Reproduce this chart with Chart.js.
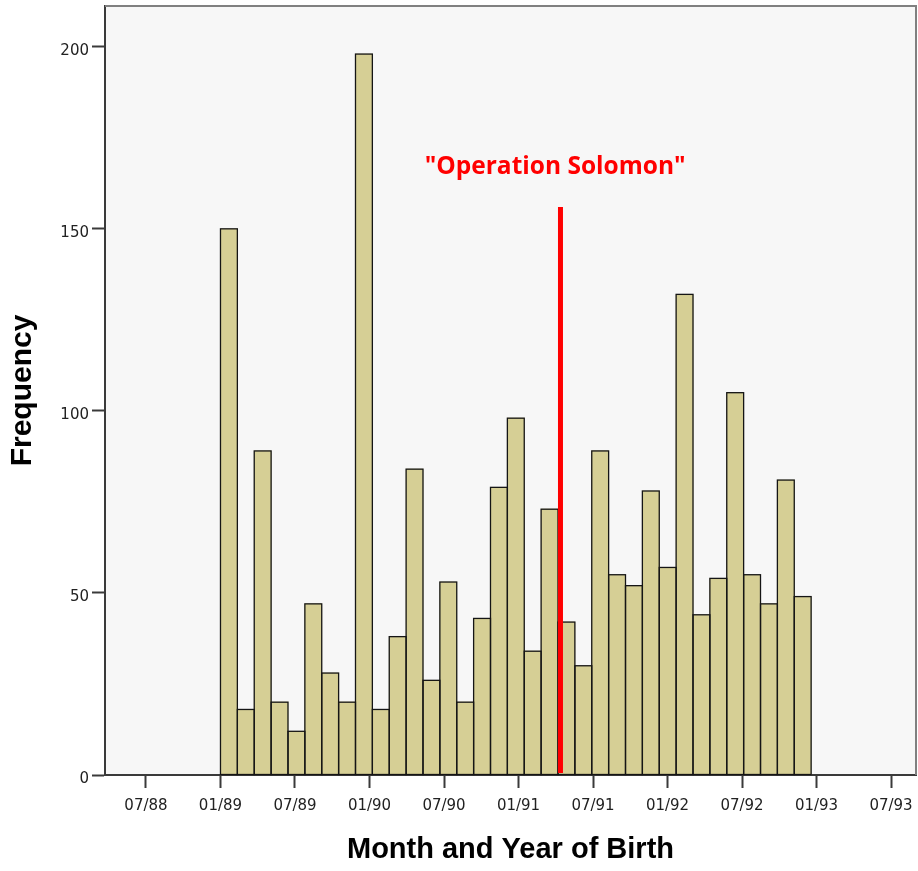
<!DOCTYPE html>
<html>
<head>
<meta charset="utf-8">
<script src="https://cdn.jsdelivr.net/npm/chart.js@4"></script>
<style>
html, body { margin: 0; padding: 0; background: #fff; }
</style>
</head>
<body>
<canvas id="hist" width="918" height="871"></canvas>
<script>
// counts per bin, 35 bins starting at 01/89
var counts = [150, 18, 89, 20, 12, 47, 28, 20, 198, 18, 38, 84, 26, 53, 20, 43, 79, 98, 34, 73,
              42, 30, 89, 55, 52, 78, 57, 132, 44, 54, 105, 55, 47, 81, 49];
// x is counted in months since 01/88
var binStart = 12;
var binWidth = 1.359;
var xTickValues = [6, 12, 18, 24, 30, 36, 42, 48, 54, 60, 66];
var xTickLabels = ['07/88', '01/89', '07/89', '01/90', '07/90', '01/91', '07/91', '01/92', '07/92', '01/93', '07/93'];
var yTicks = [0, 50, 100, 150, 200];
var eventMonth = 39.38;
var eventTop = 156;
var eventLabel = '"Operation Solomon"';
var eventLabelX = 38.95;
var eventLabelY = 167;

var points = [];
for (var i = 0; i < counts.length; i++) {
    points.push({x: binStart + (i + 0.5) * binWidth, y: counts[i]});
}

var axisColor = '#3a3a3a';

// keep the plot box where it is, no extra room for edge labels
function noEdgePadding(s) {
    s.paddingTop = 0;
    s.paddingBottom = 0;
    s.paddingLeft = 0;
    s.paddingRight = 0;
}

var decor = {
    id: 'decor',
    beforeDraw: function (chart) {
        var a = chart.chartArea, ctx = chart.ctx;
        ctx.save();
        ctx.fillStyle = '#f7f7f7';
        ctx.fillRect(a.left, a.top, a.right - a.left, a.bottom - a.top);
        ctx.restore();
    },
    afterDatasetsDraw: function (chart) {
        var ctx = chart.ctx, xs = chart.scales.x, ys = chart.scales.y;
        ctx.save();
        ctx.strokeStyle = '#151515';
        ctx.lineWidth = 1.3;
        chart.getDatasetMeta(0).data.forEach(function (bar) {
            var p = bar.getProps(['x', 'y', 'base', 'width'], true);
            ctx.strokeRect(p.x - p.width / 2, p.y, p.width, p.base - p.y);
        });
        var ex = xs.getPixelForValue(eventMonth);
        ctx.strokeStyle = '#ff0000';
        ctx.lineWidth = 5;
        ctx.beginPath();
        ctx.moveTo(ex, ys.getPixelForValue(eventTop));
        ctx.lineTo(ex, ys.getPixelForValue(0) - 2);
        ctx.stroke();
        ctx.fillStyle = '#ff0000';
        ctx.font = 'bold 24.5px "Open Sans"';
        ctx.textAlign = 'center';
        ctx.textBaseline = 'middle';
        ctx.fillText(eventLabel, xs.getPixelForValue(eventLabelX), ys.getPixelForValue(eventLabelY));
        ctx.restore();
    },
    afterDraw: function (chart) {
        var a = chart.chartArea, ctx = chart.ctx;
        ctx.save();
        ctx.strokeStyle = '#808080';
        ctx.lineWidth = 2;
        ctx.beginPath();
        ctx.moveTo(a.left, a.top);
        ctx.lineTo(a.right, a.top);
        ctx.lineTo(a.right, a.bottom);
        ctx.stroke();
        ctx.restore();
    }
};

var chart = new Chart(document.getElementById('hist').getContext('2d'), {
    type: 'bar',
    data: {
        datasets: [{
            data: points,
            backgroundColor: '#d6cf95',
            borderWidth: 0,
            barPercentage: 1,
            categoryPercentage: 1
        }]
    },
    options: {
        responsive: false,
        animation: false,
        layout: {padding: {top: 6, right: 2, left: 0, bottom: 0}},
        plugins: {legend: {display: false}, tooltip: {enabled: false}},
        scales: {
            x: {
                type: 'linear',
                min: 2.70,
                max: 68.01,
                offset: false,
                grid: {offset: false, drawOnChartArea: false, drawTicks: true, tickLength: 13, tickWidth: 2, tickColor: axisColor},
                border: {display: true, color: axisColor, width: 2},
                ticks: {
                    font: {family: 'DejaVu Sans', size: 15},
                    color: '#222',
                    padding: 9,
                    maxRotation: 0,
                    autoSkip: false,
                    callback: function (v) { return xTickLabels[xTickValues.indexOf(v)]; }
                },
                afterBuildTicks: function (s) { s.ticks = xTickValues.map(function (v) { return {value: v}; }); },
                afterFit: function (s) { s.height = 96; noEdgePadding(s); },
                title: {
                    display: true,
                    text: 'Month and Year of Birth',
                    font: {family: 'Liberation Sans', size: 29, weight: 'bold'},
                    color: '#000',
                    padding: {top: 0, bottom: 4}
                }
            },
            y: {
                min: 0,
                max: 211.2,
                grid: {drawOnChartArea: false, drawTicks: true, tickLength: 13, tickWidth: 2, tickColor: axisColor},
                border: {display: true, color: axisColor, width: 2},
                ticks: {
                    font: {family: 'DejaVu Sans', size: 15},
                    color: '#222',
                    padding: 3,
                    labelOffset: 4
                },
                afterBuildTicks: function (s) { s.ticks = yTicks.map(function (v) { return {value: v}; }); },
                afterFit: function (s) { s.width = 105; noEdgePadding(s); },
                title: {
                    display: true,
                    text: 'Frequency',
                    font: {family: 'Liberation Sans', size: 30, weight: 'bold'},
                    color: '#000',
                    padding: {top: 5, bottom: 0}
                }
            }
        }
    },
    plugins: [decor]
});
</script>
</body>
</html>
